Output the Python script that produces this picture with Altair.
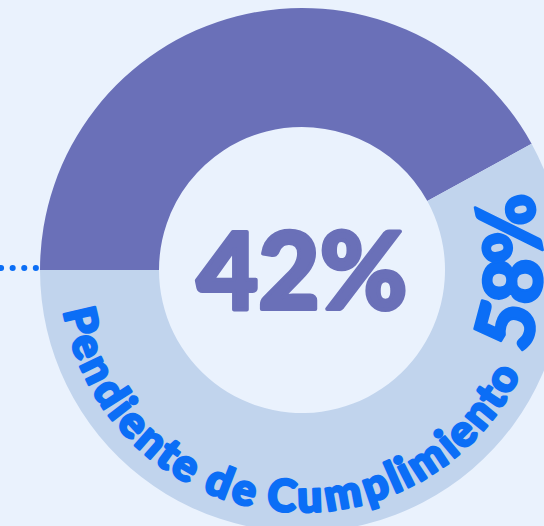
import math
import altair as alt
import pandas as pd

# ---- data ----
segments = ["Cumplido", "Pendiente de Cumplimiento"]
values = [42, 58]
center_label = "42%"
ring_label = "Pendiente de Cumplimiento"
ring_pct = "58%"

# ---- styling / layout ----
BG = "#eaf2fd"
DARK = "#6a70b8"
LIGHT = "#c1d4ed"
BLUE = "#0b6ef6"
FONT = "Lato"
CX, CY = 302, 270
R_OUT, R_IN = 262, 143
START = 1.5 * math.pi

char_em = {
    "P": 0.68, "e": 0.62, "n": 0.66, "d": 0.70, "i": 0.30, "t": 0.42, " ": 0.28,
    "C": 0.74, "u": 0.66, "m": 1.0, "p": 0.70, "l": 0.30, "o": 0.66,
    "5": 0.62, "8": 0.64, "%": 0.85,
}


def arc_chars(text, fs, adv, r, first_deg):
    rows = []
    pos = 0.0
    prev = None
    for ch in text:
        w = char_em.get(ch, 0.6) * adv
        if prev is not None:
            pos += (prev + w) / 2
        th = math.radians(first_deg) - pos / r
        if ch != " ":
            rows.append(dict(ch=ch, theta=th, r=r, fs=fs,
                             ang=(math.degrees(th) - 180) % 360))
        prev = w
    return rows


seg_df = pd.DataFrame({"segment": segments, "value": values, "idx": [0, 1]})
char_df = pd.DataFrame(arc_chars(ring_label, 44, 40, 229, 257) + arc_chars(ring_pct, 80, 72, 216, 105))

donut = alt.Chart(seg_df).mark_arc(strokeWidth=0).encode(
    theta=alt.Theta("value:Q", stack=True, scale=alt.Scale(range=[START, START + 2 * math.pi])),
    color=alt.Color("segment:N", scale=alt.Scale(domain=segments, range=[DARK, LIGHT]), legend=None),
    order=alt.Order("idx:Q"),
    x=alt.value(CX), y=alt.value(CY),
    radius=alt.value(R_OUT), radius2=alt.value(R_IN),
)

ring_text = alt.Chart(char_df).mark_text(
    font=FONT, fontWeight=900, color=BLUE, stroke=BLUE, strokeWidth=2.6, strokeJoin="round",
    align="center", baseline="middle"
).encode(
    text="ch:N",
    theta=alt.Theta("theta:Q", scale=None, stack=None),
    radius=alt.Radius("r:Q", scale=None),
    angle=alt.Angle("ang:Q", scale=None),
    size=alt.Size("fs:Q", scale=None),
    x=alt.value(CX), y=alt.value(CY),
)

center = alt.Chart(pd.DataFrame({"t": [center_label]})).mark_text(
    font=FONT, fontWeight=900, fontSize=106, color=DARK, stroke=DARK, strokeWidth=4,
    strokeJoin="round", align="center", baseline="middle"
).encode(text="t:N", x=alt.value(CX), y=alt.value(CY + 7))

dots = alt.Chart(pd.DataFrame({"a": [0]})).mark_rule(
    strokeDash=[0.1, 11.5], strokeCap="round", strokeWidth=6, color=BLUE
).encode(x=alt.value(1), x2=alt.value(38), y=alt.value(268))

chart = alt.layer(donut, ring_text, center, dots).properties(
    width=544, height=526, padding=0, background=BG,
    autosize=alt.AutoSizeParams(type="none"),
).configure_view(strokeWidth=0)

chart.save("out.html", embed_options={"renderer": "svg", "actions": False})
